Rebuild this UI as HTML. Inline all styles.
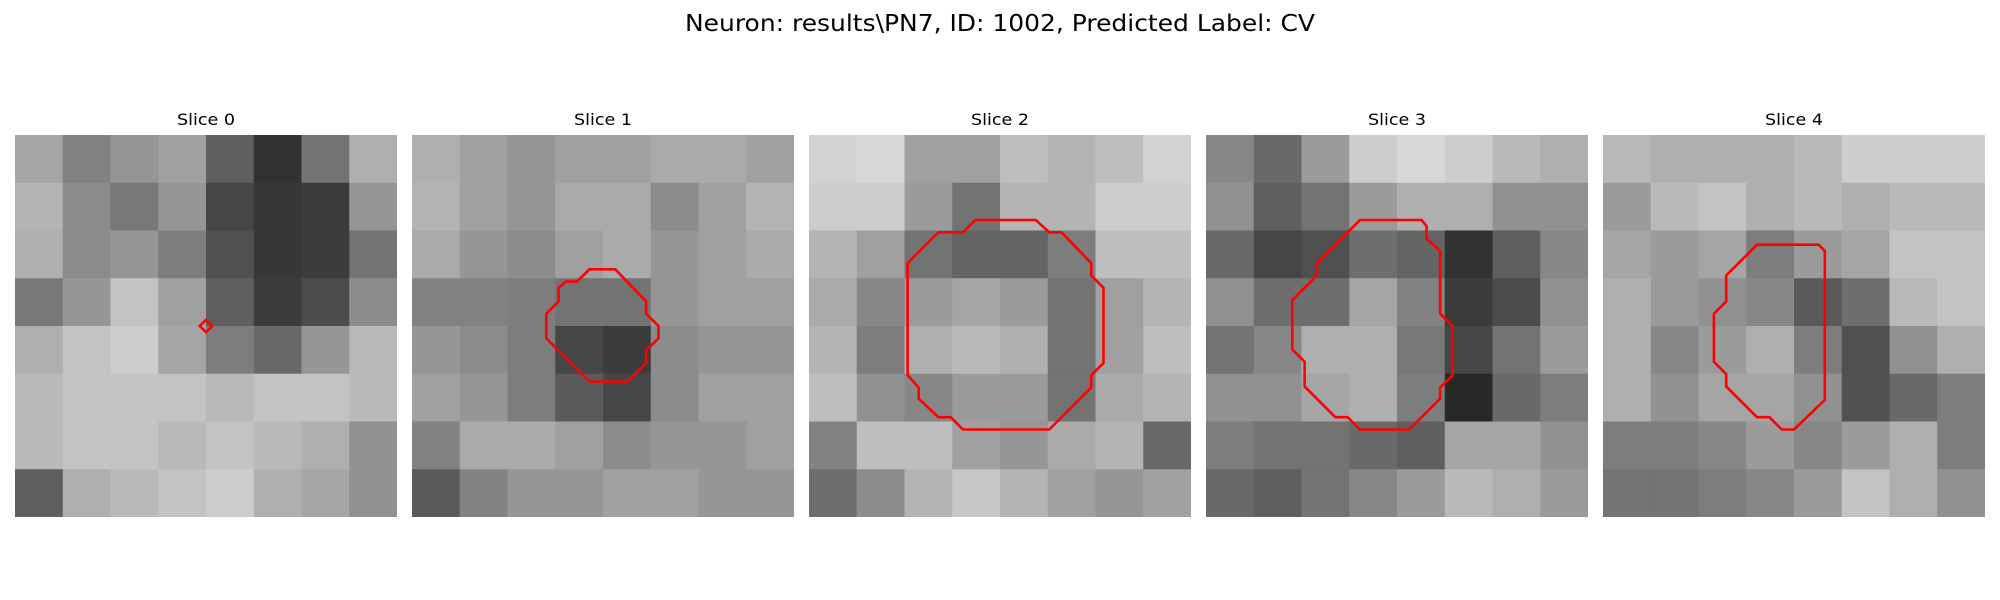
<!DOCTYPE html>
<html><head><meta charset="utf-8"><style>
html,body{margin:0;padding:0;background:#fff;}
svg{display:block;}
text{font-family:"DejaVu Sans","Liberation Sans",sans-serif;fill:#000;}
</style></head><body>
<svg id="fig" width="2000" height="600" viewBox="0 0 2000 600">
<text x="1000" y="31" font-size="23" text-anchor="middle" textLength="630" lengthAdjust="spacingAndGlyphs">Neuron: results\PN7, ID: 1002, Predicted Label: CV</text>
</svg>
<script>
// Panel titles
const sliceTitles = ["Slice 0","Slice 1","Slice 2","Slice 3","Slice 4"];
// Coarse 8x8 grayscale intensities (0-255) estimated per slice
const slice0 = [
[165,130,150,160,95,50,115,175],
[180,140,120,150,70,55,60,150],
[175,140,150,125,80,55,60,115],
[120,150,195,160,95,60,75,140],
[175,195,205,165,125,105,150,185],
[185,195,195,195,185,195,195,185],
[185,195,195,185,195,185,175,145],
[95,175,185,195,205,175,165,145]];
const slice1 = [
[175,160,150,160,160,170,170,160],
[180,160,150,170,170,140,160,180],
[170,150,140,160,170,150,160,170],
[130,130,125,115,115,150,160,160],
[150,140,125,70,60,140,150,150],
[160,150,125,90,70,140,160,160],
[130,170,170,160,140,150,150,160],
[90,130,150,150,160,160,150,150]];
const slice2 = [
[210,215,160,160,190,180,190,210],
[205,205,155,115,180,180,205,205],
[180,160,115,100,100,125,190,190],
[170,135,155,165,155,115,160,180],
[180,125,175,185,175,115,160,190],
[190,145,135,155,155,115,170,180],
[130,190,190,160,150,170,180,105],
[110,140,180,200,180,160,150,160]];
const slice3 = [
[135,105,155,205,215,205,185,175],
[145,95,115,155,175,175,145,145],
[105,70,80,110,100,50,95,135],
[145,110,110,165,130,60,75,145],
[115,135,175,175,120,70,115,155],
[145,145,165,175,125,40,105,125],
[125,115,115,105,95,165,165,145],
[105,95,115,135,155,185,175,155]];
const slice4 = [
[185,175,175,175,185,205,205,205],
[155,185,195,175,185,175,185,185],
[165,155,165,125,155,165,195,195],
[175,155,145,135,90,110,185,195],
[175,135,155,175,125,80,145,175],
[175,145,165,165,145,80,105,125],
[125,125,135,155,135,155,175,125],
[115,115,125,135,155,195,175,145]];
// Contours in image pixel units (31x31 image)
const contour0 = [[15.5,15],[16,15.5],[15.5,16],[15,15.5]];
const contour1 = [[14.4,10.9],[16.5,10.9],[19,13.5],[19,14.5],[20,15.5],[20,16.5],[19,17.5],[19,18.5],[17.5,20],[14.4,20],[10.9,16.5],[10.9,14.5],[11.9,13.5],[11.9,12.4],[12.5,11.9],[13.4,11.9]];
const contour2 = [[13.5,6.9],[18.4,6.9],[19.5,7.9],[20.5,7.9],[22.9,10.4],[22.9,11.4],[23.9,12.4],[23.9,18.5],[22.9,19.5],[22.9,20.5],[19.5,23.9],[12.5,23.9],[11.5,22.9],[10.5,22.9],[8.9,21.4],[8.9,20.5],[8,19.5],[8,10.4],[10.5,7.9],[12.5,7.9]];
const contour3 = [[12.5,6.9],[17.5,6.9],[17.9,7.4],[17.9,8.4],[19,9.4],[19,14.5],[20,15.5],[20,19.5],[19,20.5],[19,21.4],[16.5,23.9],[12.5,23.9],[11.5,22.9],[10.5,22.9],[8,20.4],[8,18.4],[7,17.4],[7,13.4],[9,11.4],[9,10.4]];
const contour4 = [[12.5,8.9],[17.5,8.9],[18,9.4],[18,21.5],[15.5,23.9],[14.5,23.9],[13.5,22.9],[12.5,22.9],[10,20.4],[10,19.4],[9,18.4],[9,14.5],[10,13.5],[10,11.4]];

const slices = [slice0,slice1,slice2,slice3,slice4];
const contours = [contour0,contour1,contour2,contour3,contour4];
const panelX = [15,412,809,1206,1603];
const panelY = 135, panelSize = 382, imgPx = 31;
const NS = "http://www.w3.org/2000/svg";
const svg = document.getElementById("fig");

slices.forEach((grid, p) => {
  const g = document.createElementNS(NS,"g");
  
  
  svg.appendChild(g);
  const t = document.createElementNS(NS,"text");
  
  
  t.setAttribute("x", panelX[p] + panelSize/2);
  t.setAttribute("y", 125);
  t.setAttribute("font-size", "16");
  t.setAttribute("text-anchor", "middle");
  t.setAttribute("textLength", "58");
  t.setAttribute("lengthAdjust", "spacingAndGlyphs");
  t.textContent = sliceTitles[p];
  g.appendChild(t);
  const n = grid.length, cs = panelSize / n;
  const xs = c => panelX[p] + c * cs;
  const ys = r => panelY + r * cs;
  grid.forEach((row, r) => row.forEach((v, c) => {
    const rect = document.createElementNS(NS,"rect");
    
    
    rect.setAttribute("x", xs(c).toFixed(2));
    rect.setAttribute("y", ys(r).toFixed(2));
    rect.setAttribute("width", (c === n-1 ? cs : cs+0.6).toFixed(2));
    rect.setAttribute("height", (r === n-1 ? cs : cs+0.6).toFixed(2));
    rect.setAttribute("fill", `rgb(${v},${v},${v})`);
    g.appendChild(rect);
  }));
  const ps = panelSize / imgPx;
  const pts = contours[p].map(([cx,cy]) => (panelX[p] + cx*ps).toFixed(1) + "," + (panelY + cy*ps).toFixed(1)).join(" ");
  const poly = document.createElementNS(NS,"polygon");
  
  
  poly.setAttribute("points", pts);
  poly.setAttribute("fill", "none");
  poly.setAttribute("stroke", "#ff0000");
  poly.setAttribute("stroke-width", "2.6");
  poly.setAttribute("stroke-linejoin", "miter");
  g.appendChild(poly);
});
</script>
</body></html>
